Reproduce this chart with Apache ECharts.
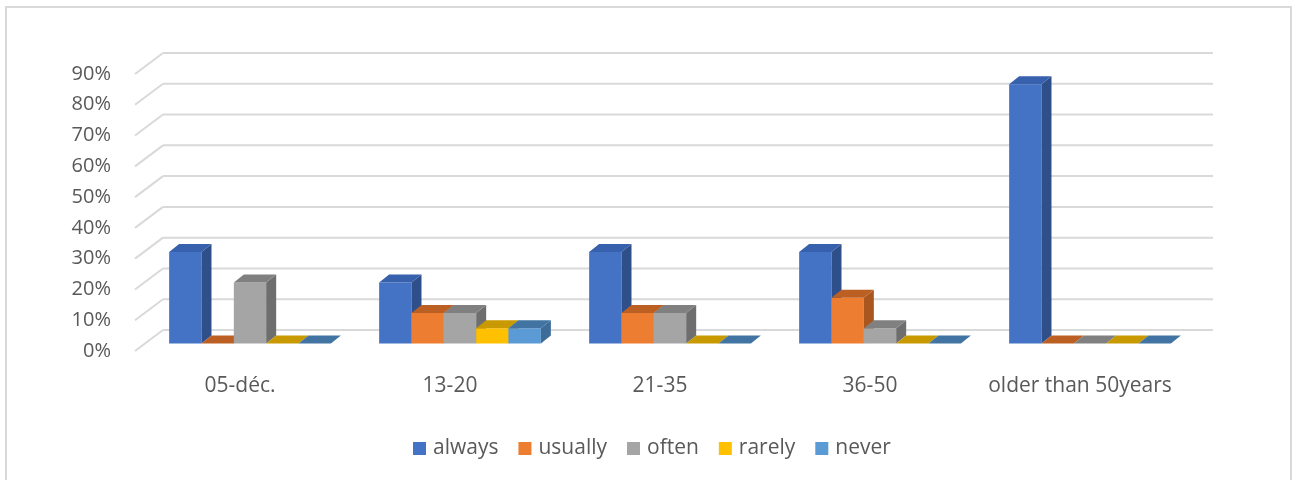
<!DOCTYPE html>
<html><head><meta charset="utf-8">
<script src="https://cdn.jsdelivr.net/npm/echarts@6/dist/echarts.min.js"></script>
<style>html,body{margin:0;padding:0;background:#fff}#c{width:1293px;height:480px}</style>
</head><body><div id="c"></div>
<script>
// ---- data ----
const categories = ['05-déc.', '13-20', '21-35', '36-50', 'older than 50years'];
const seriesNames = ['always', 'usually', 'often', 'rarely', 'never'];
const always  = [0.30, 0.20, 0.30, 0.30, 0.85];
const usually = [0.00, 0.10, 0.10, 0.15, 0.00];
const often   = [0.20, 0.10, 0.10, 0.05, 0.00];
const rarely  = [0.00, 0.05, 0.00, 0.00, 0.00];
const never   = [0.00, 0.05, 0.00, 0.00, 0.00];
const yTicks  = [0, 0.1, 0.2, 0.3, 0.4, 0.5, 0.6, 0.7, 0.8, 0.9];

// ---- styling ----
const FONT = 'Open Sans';
const faces = [
  {front:'#4472C4', top:'#3761AC', side:'#2E4F8A'},
  {front:'#ED7D31', top:'#BC5F23', side:'#A9561F'},
  {front:'#A5A5A5', top:'#808080', side:'#6E6E6E'},
  {front:'#FFC000', top:'#C89A00', side:'#B98D00'},
  {front:'#5B9BD5', top:'#4274A3', side:'#3E6C98'}
];
const WALL_DX = 28, WALL_DY = -21;   // depth of back wall
const BAR_DX = 10, BAR_DY = -8;      // depth of bars
const BAR_FRAC = 0.154;              // bar width as fraction of category band

const values = [always, usually, often, rarely, never];

const chart = echarts.init(document.getElementById('c'));

function barRender(sIdx) {
  return function (params, api) {
    const ci = api.value(0), v = api.value(1);
    const top = api.coord([ci, v]);
    const base = api.coord([ci, 0]);
    const band = api.size([1, 0])[0];
    const w = band * BAR_FRAC;
    const x0 = top[0] + (sIdx - 2.5) * w;
    const x1 = x0 + w;
    const yT = top[1], yB = base[1];
    const f = faces[sIdx];
    const children = [];
    if (yB - yT > 0.5) {
      children.push({type:'rect', shape:{x:x0, y:yT, width:w, height:yB - yT}, style:{fill:f.front}});
      children.push({type:'polygon', shape:{points:[[x1,yT],[x1+BAR_DX,yT+BAR_DY],[x1+BAR_DX,yB+BAR_DY],[x1,yB]]}, style:{fill:f.side}});
    }
    children.push({type:'polygon', shape:{points:[[x0,yT],[x1,yT],[x1+BAR_DX,yT+BAR_DY],[x0+BAR_DX,yT+BAR_DY]]}, style:{fill:f.top}});
    return {type:'group', children};
  };
}

const series = [{
  type:'custom', xAxisIndex:0, yAxisIndex:0, silent:true, z:1,
  data: yTicks.map(v => [0, v]),
  renderItem: function (params, api) {
    const cs = params.coordSys;
    const y = api.coord([0, api.value(1)])[1];
    const xl = cs.x, xr = cs.x + cs.width;
    return {type:'group', children:[
      {type:'line', shape:{x1:xl, y1:y, x2:xl + WALL_DX, y2:y + WALL_DY}, style:{stroke:'#D9D9D9', lineWidth:2}},
      {type:'line', shape:{x1:xl + WALL_DX, y1:y + WALL_DY, x2:xr + WALL_DX, y2:y + WALL_DY}, style:{stroke:'#D9D9D9', lineWidth:2}}
    ]};
  }
}];
seriesNames.forEach((name, i) => {
  series.push({
    type:'custom', name, xAxisIndex:1, yAxisIndex:1, z:2 + i,
    itemStyle:{color:faces[i].front},
    data: values[i].map((v, ci) => [ci, v]),
    renderItem: barRender(i)
  });
});

chart.setOption({
  animation:false,
  backgroundColor:'#fff',
  textStyle:{fontFamily:FONT},
  graphic:[{type:'rect', shape:{x:6, y:7, width:1285, height:480}, style:{fill:'none', stroke:'#D9D9D9', lineWidth:2}, silent:true}],
  grid:[
    {left:135, right:108, top:74, bottom:129},
    {left:145, right:98, top:69, bottom:136.5}
  ],
  xAxis:[
    {type:'category', gridIndex:0, data:categories, axisLine:{show:false}, axisTick:{show:false},
     axisLabel:{color:'#595959', fontSize:21, fontFamily:FONT, margin:25, interval:0, hideOverlap:false}},
    {type:'category', gridIndex:1, data:categories, show:false}
  ],
  yAxis:[
    {type:'value', gridIndex:0, min:0, max:0.9, interval:0.1, splitLine:{show:false}, axisLine:{show:false}, axisTick:{show:false},
     axisLabel:{color:'#595959', fontSize:20, fontFamily:FONT, margin:24, formatter:v => Math.round(v*100) + '%'}},
    {type:'value', gridIndex:1, min:0, max:0.9, interval:0.1, show:false, splitLine:{show:false}}
  ],
  legend:{
    data:seriesNames, left:413, top:438, padding:0, icon:'rect', itemWidth:13, itemHeight:13, itemGap:20,
    textStyle:{color:'#595959', fontSize:21, fontFamily:FONT, padding:[0,0,0,2]}
  },
  series
});
</script></body></html>
